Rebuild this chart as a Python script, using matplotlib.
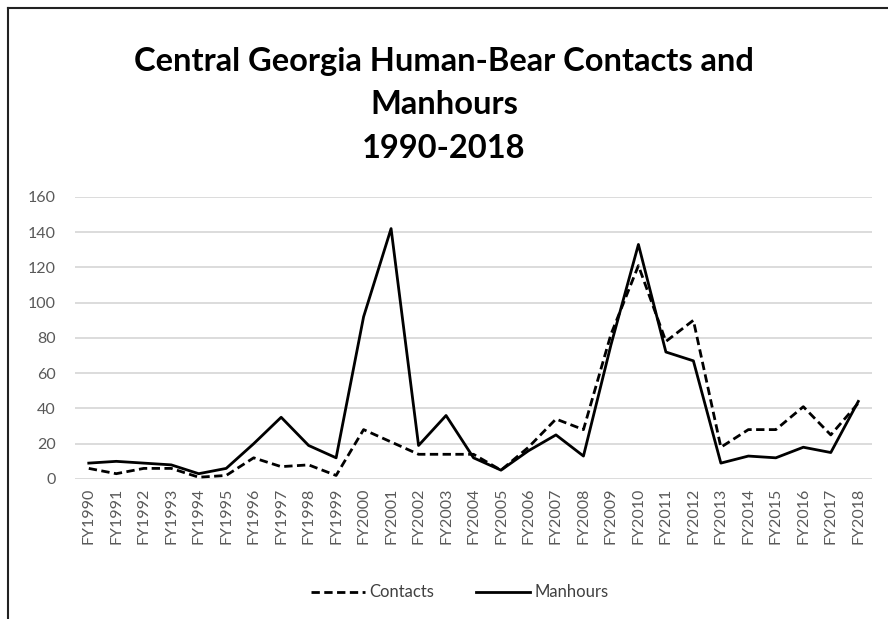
import numpy as np
import matplotlib
matplotlib.use("Agg")
import matplotlib.pyplot as plt
from matplotlib.lines import Line2D

# Fiscal year labels
YEARS = [f"FY{y}" for y in range(1990, 2019)]

# Values
CONTACTS = [6, 3, 6, 6, 1, 2, 12, 7, 8, 2,
            28, 21, 14, 14, 14, 5, 18, 34, 28, 82,
            121, 78, 90, 18, 28, 28, 41, 25, 43]
MANHOURS = [9, 10, 9, 8, 3, 6, 20, 35, 19, 12,
            92, 142, 19, 36, 12, 5, 16, 25, 13, 76,
            133, 72, 67, 9, 13, 12, 18, 15, 44]

TITLE = "Central Georgia Human-Bear Contacts and\nManhours\n1990-2018"

plt.rcParams['font.family'] = ['Lato', 'DejaVu Sans']

fig = plt.figure(figsize=(8.88, 6.19), dpi=100)
ax = fig.add_axes([0.0845, 0.2262, 0.8975, 0.4558])

x = np.arange(len(YEARS))
ax.plot(x, CONTACTS, color='black', lw=2.0, ls=(0, (3, 1.6)), label='Contacts')
ax.plot(x, MANHOURS, color='black', lw=2.0, label='Manhours')

ax.set_xlim(-0.5, len(YEARS) - 0.5)
ax.set_ylim(0, 160)
ax.set_yticks(np.arange(0, 161, 20))
ax.set_xticks(x)
ax.set_xticklabels(YEARS, rotation=90)
ax.grid(axis='y', color='#d9d9d9', lw=1.3)
ax.set_axisbelow(True)
for s in ax.spines.values():
    s.set_visible(False)
ax.tick_params(length=0, labelsize=11.5, colors='#595959', pad=6)
ax.tick_params(axis='y', pad=14)

fig.text(0.5, 0.831, TITLE, ha='center', va='center', fontsize=23.5,
         fontweight='bold', linespacing=1.6)

handles = [Line2D([], [], color='black', lw=2.0, ls=(0, (3, 1.6))),
           Line2D([], [], color='black', lw=2.0)]
leg = fig.legend(handles, ['Contacts', 'Manhours'], loc='center',
                 bbox_to_anchor=(0.518, 0.043), ncol=2, frameon=False,
                 fontsize=12, handlelength=3.2, handletextpad=0.3,
                 columnspacing=2.5)
for t in leg.get_texts():
    t.set_color('#404040')

# chart border (only top and left visible in the crop)
fig.add_artist(Line2D([0.009, 1.0], [0.987, 0.987], color='#222222', lw=1.5))
fig.add_artist(Line2D([0.009, 0.009], [0.0, 0.987], color='#222222', lw=1.5))

fig.savefig("out.png", dpi=100)
